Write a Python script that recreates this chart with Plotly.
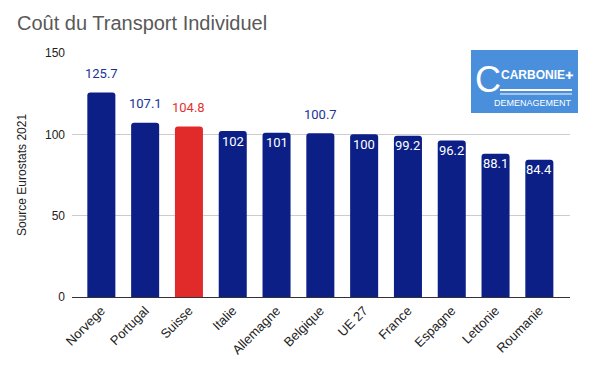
import plotly.graph_objects as go

categories = ["Norvege", "Portugal", "Suisse", "Italie", "Allemagne", "Belgique",
              "UE 27", "France", "Espagne", "Lettonie", "Roumanie"]
values = [125.7, 107.1, 104.8, 102, 101, 100.7, 100, 99.2, 96.2, 88.1, 84.4]
label_texts = ["125.7", "107.1", "104.8", "102", "101", "100.7", "100", "99.2", "96.2", "88.1", "84.4"]
label_outside = [True, True, True, False, False, True, False, False, False, False, False]
highlight = "Suisse"
y_ticks = [0, 50, 100, 150]

NAVY = "#0b1f86"
RED = "#e12b2b"
bar_colors = [RED if c == highlight else NAVY for c in categories]

# page has an 8px body margin; work in page pixel coordinates
OFF = 8
W, H = 594 - OFF, 366 - OFF
PL, PR, PT, PB = 72, 570, 53, 297  # plot area in page pixels
L, R, T, B = PL - OFF, W - (PR - OFF), PT - OFF, H - (PB - OFF)
PW = PR - PL
PH = PB - PT

def px_x(px):
    return (px - PL) / PW

def px_y(py):
    return (PB - py) / PH

fig = go.Figure()
fig.add_trace(go.Bar(
    x=categories, y=values, marker=dict(color=bar_colors, line=dict(width=0)),
    width=0.64, hoverinfo="skip",
))

annotations = []
for c, v, t, out, col in zip(categories, values, label_texts, label_outside, bar_colors):
    if out:
        annotations.append(dict(x=c, y=v, xref="x", yref="y", text=t, showarrow=False,
                                yanchor="middle", yshift=19,
                                font=dict(family="Roboto", size=13,
                                          color=("#e53030" if col == RED else "#1a3399"))))
    else:
        annotations.append(dict(x=c, y=v, xref="x", yref="y", text=t, showarrow=False,
                                yanchor="middle", yshift=-10,
                                font=dict(family="Roboto", size=13, color="white")))

# title
annotations.append(dict(x=px_x(15), y=px_y(23), xref="paper", yref="paper",
                        text="Coût du Transport Individuel", showarrow=False,
                        xanchor="left", yanchor="middle",
                        font=dict(family="Liberation Sans, Arial", size=20, color="#595959")))
# y axis title
annotations.append(dict(x=px_x(22), y=0.5, xref="paper", yref="paper", text="Source Eurostats 2021",
                        textangle=-90, showarrow=False, xanchor="center", yanchor="middle",
                        font=dict(family="Liberation Sans, Arial", size=12, color="#222")))

# logo approximation
shapes = [dict(type="rect", xref="paper", yref="paper", x0=px_x(471), x1=px_x(578),
               y0=px_y(113), y1=px_y(50),
               fillcolor="#4a8fdc", line=dict(width=0), layer="above"),
          dict(type="line", xref="paper", yref="paper", x0=px_x(500), x1=px_x(572),
               y0=px_y(90), y1=px_y(90), line=dict(color="white", width=2), layer="above"),
          dict(type="line", xref="paper", yref="paper", x0=px_x(500), x1=px_x(572),
               y0=px_y(94), y1=px_y(94), line=dict(color="white", width=1), layer="above")]
annotations.append(dict(x=px_x(473), y=px_y(79), xref="paper", yref="paper", text="C", showarrow=False,
                        xanchor="left", yanchor="middle",
                        font=dict(family="Liberation Sans, Arial", size=36, color="white")))
annotations.append(dict(x=px_x(499), y=px_y(75), xref="paper", yref="paper", text="<b>CARBONIE</b>",
                        showarrow=False, xanchor="left", yanchor="middle",
                        font=dict(family="Liberation Sans, Arial", size=12, color="white")))
annotations.append(dict(x=px_x(563), y=px_y(75), xref="paper", yref="paper", text="<b>✚</b>",
                        showarrow=False, xanchor="left", yanchor="middle",
                        font=dict(family="DejaVu Sans", size=10, color="white")))
annotations.append(dict(x=px_x(533), y=px_y(103), xref="paper", yref="paper", text="DEMENAGEMENT",
                        showarrow=False, xanchor="center", yanchor="middle",
                        font=dict(family="Liberation Sans, Arial", size=9, color="white")))

fig.update_layout(
    width=W, height=H,
    margin=dict(l=L, r=R, t=T, b=B, autoexpand=False),
    paper_bgcolor="white", plot_bgcolor="white",
    barcornerradius=3,
    showlegend=False,
    xaxis=dict(range=[-0.67, 10.7], tickangle=-45, showline=True, linecolor="#333", linewidth=1,
               showgrid=False, ticks="", automargin=False,
               tickfont=dict(family="Liberation Sans, Arial", size=13, color="#222")),
    yaxis=dict(range=[0, 150], tickvals=y_ticks, showgrid=True, gridcolor="#cccccc", gridwidth=1,
               zeroline=False, ticks="", ticklabelstandoff=6, automargin=False,
               tickfont=dict(family="Liberation Sans, Arial", size=12, color="#222")),
    annotations=annotations, shapes=shapes,
)

fig.write_html("out.html")
